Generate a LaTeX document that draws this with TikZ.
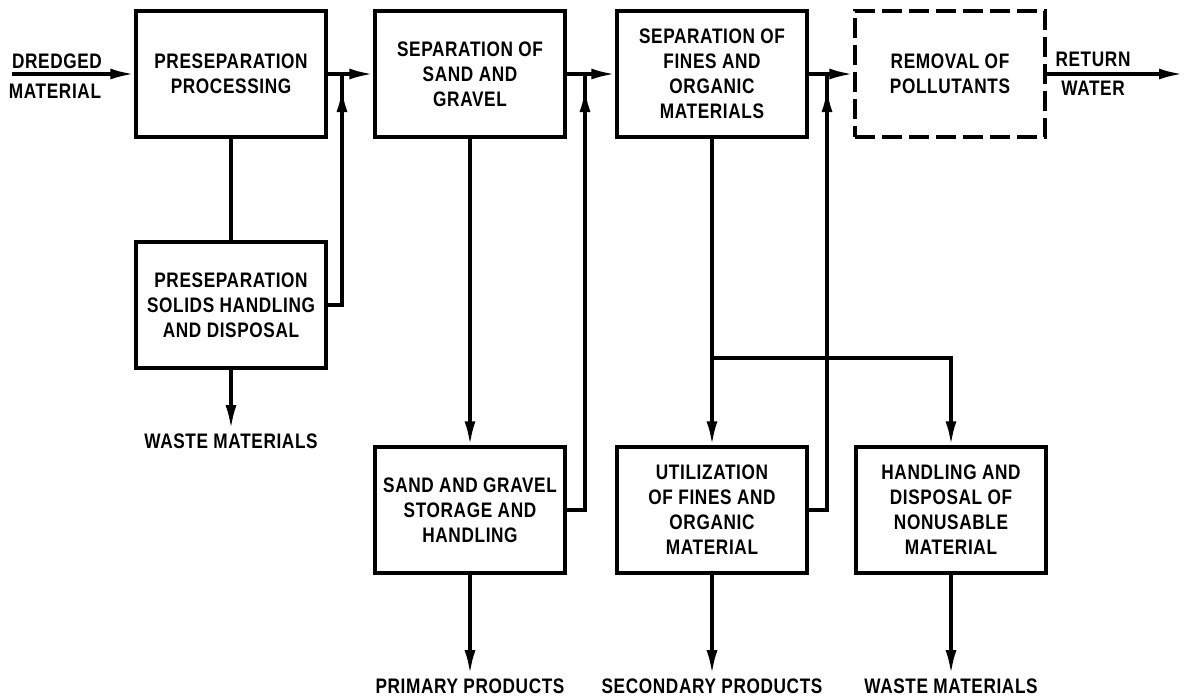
\documentclass[tikz,border=0pt]{standalone}
\usepackage{fontspec}
\setmainfont[FakeStretch=0.82,LetterSpace=3]{Liberation Sans}
\usetikzlibrary{arrows.meta,decorations.markings}

\begin{document}
\begin{tikzpicture}[x=0.5pt, y=-0.5pt,
  every node/.style={font=\bfseries\fontsize{10.5}{12.5}\selectfont, align=center},
  box/.style={rectangle, draw, line width=1.7pt, minimum width=95pt, minimum height=63pt, inner sep=2pt},
  dashbox/.style={box, dash pattern=on 10pt off 3.5pt},
  lbl/.style={inner sep=2pt},
  line/.style={draw, line width=1.7pt},
  flow/.style={line, -{Latex[length=12pt,width=5.5pt]}},
  uparrow/.style={postaction={decorate}, decoration={markings,
      mark=at position -7pt with {\arrow{Latex[length=12pt,width=5.5pt]}}}}
]
\useasboundingbox (0,0) rectangle (1186,697);
% Top row
\node[box] (pp) at (231,74) {PRESEPARATION\\PROCESSING};
\node[box] (sg) at (470,74) {SEPARATION OF\\SAND AND\\GRAVEL};
\node[box] (sf) at (712,74) {SEPARATION OF\\FINES AND\\ORGANIC\\MATERIALS};
\node[dashbox] (rp) at (950,74) {REMOVAL OF\\POLLUTANTS};
% Lower boxes
\node[box] (ps) at (231,305) {PRESEPARATION\\SOLIDS HANDLING\\AND DISPOSAL};
\node[box] (sgs) at (470,510) {SAND AND GRAVEL\\STORAGE AND\\HANDLING};
\node[box] (util) at (712,510) {UTILIZATION\\OF FINES AND\\ORGANIC\\MATERIAL};
\node[box] (nonu) at (951,510) {HANDLING AND\\DISPOSAL OF\\NONUSABLE\\MATERIAL};
% Inputs, outputs and junctions
\coordinate (in) at (12,74);
\coordinate (out) at (1183,74);
\coordinate (j1) at (342,74);
\coordinate (j2) at (585,74);
\coordinate (j3) at (827,74);
\coordinate (br) at (712,358);
\node[lbl] (dr) at (57,61) {DREDGED};
\node[lbl] (dm) at (55,91) {MATERIAL};
\node[lbl] (rt) at (1093,59) {RETURN};
\node[lbl] (rw) at (1093,88) {WATER};
\node[lbl] (waste1) at (231,441) {WASTE MATERIALS};
\node[lbl] (prim) at (470,686) {PRIMARY PRODUCTS};
\node[lbl] (sec) at (712,686) {SECONDARY PRODUCTS};
\node[lbl] (waste2) at (951,686) {WASTE MATERIALS};
% Main flow
\draw[flow] (in) -- (pp);
\draw[flow] (pp) -- (sg);
\draw[flow] (sg) -- (sf);
\draw[flow] (sf) -- (rp);
\draw[flow] (rp) -- (out);
% Side streams
\draw[line] (pp) -- (ps);
\draw[line, uparrow] (ps.east) -| (j1);
\draw[flow] (ps) -- (waste1);
\draw[flow] (sg) -- (sgs);
\draw[line, uparrow] (sgs.east) -| (j2);
\draw[flow] (sgs) -- (prim);
\draw[flow] (sf) -- (util);
\draw[flow] (br) -| (nonu);
\draw[line, uparrow] (util.east) -| (j3);
\draw[flow] (util) -- (sec);
\draw[flow] (nonu) -- (waste2);
\end{tikzpicture}
\end{document}
